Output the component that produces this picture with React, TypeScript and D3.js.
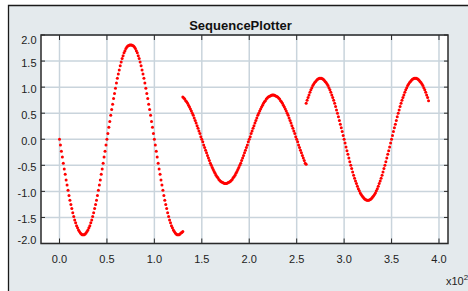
import React from "react";
import * as d3 from "d3";

// Sequence values (index-based x)
const SEG_STARTS = [0, 130, 260];

const SEG1 = [
  0, -0.11, -0.23, -0.34, -0.46, -0.57, -0.67, -0.78, -0.88, -0.98, -1.08, -1.17, -1.25, -1.33, -1.41, -1.48, -1.55, -1.60, -1.66, -1.70, -1.74, -1.77, -1.80, -1.82, -1.83, -1.83,
  -1.83, -1.82, -1.80, -1.77, -1.74, -1.70, -1.66, -1.60, -1.55, -1.48, -1.41, -1.33, -1.25, -1.17, -1.08, -0.98, -0.88, -0.78, -0.67, -0.57, -0.46, -0.34, -0.23, -0.11, 0,
  0.11, 0.23, 0.34, 0.46, 0.57, 0.67, 0.78, 0.88, 0.98, 1.08, 1.17, 1.25, 1.33, 1.41, 1.48, 1.55, 1.60, 1.66, 1.70, 1.74, 1.77, 1.79, 1.80, 1.81, 1.81,
  1.81, 1.80, 1.79, 1.77, 1.74, 1.70, 1.66, 1.60, 1.55, 1.48, 1.41, 1.33, 1.25, 1.17, 1.08, 0.98, 0.88, 0.78, 0.67, 0.57, 0.46, 0.34, 0.23, 0.11, 0,
  -0.11, -0.23, -0.34, -0.46, -0.57, -0.67, -0.78, -0.88, -0.98, -1.08, -1.17, -1.25, -1.33, -1.41, -1.48, -1.55, -1.60, -1.66, -1.70, -1.74, -1.77, -1.80, -1.82, -1.83, -1.83,
  -1.83, -1.82, -1.80, -1.79, -1.77,
];

const SEG2 = [
  0.81, 0.79, 0.77, 0.74, 0.72, 0.69, 0.65, 0.62, 0.58, 0.54, 0.50, 0.46, 0.41, 0.36, 0.31, 0.26, 0.21, 0.16, 0.11, 0.05, 0,
  -0.05, -0.11, -0.16, -0.21, -0.26, -0.31, -0.36, -0.41, -0.46, -0.50, -0.54, -0.58, -0.62, -0.65, -0.69, -0.72, -0.74, -0.77, -0.79, -0.81, -0.82, -0.83, -0.84, -0.85, -0.85,
  -0.85, -0.84, -0.83, -0.82, -0.81, -0.79, -0.77, -0.74, -0.72, -0.69, -0.65, -0.62, -0.58, -0.54, -0.50, -0.46, -0.41, -0.36, -0.31, -0.26, -0.21, -0.16, -0.11, -0.05, 0,
  0.05, 0.11, 0.16, 0.21, 0.26, 0.31, 0.36, 0.41, 0.46, 0.50, 0.54, 0.58, 0.62, 0.65, 0.69, 0.72, 0.74, 0.77, 0.79, 0.81, 0.82, 0.83, 0.84, 0.85, 0.85,
  0.85, 0.84, 0.83, 0.82, 0.81, 0.79, 0.77, 0.74, 0.72, 0.69, 0.65, 0.62, 0.58, 0.54, 0.50, 0.46, 0.41, 0.36, 0.31, 0.26, 0.21, 0.16, 0.11, 0.05, 0,
  -0.05, -0.11, -0.16, -0.21, -0.26, -0.31, -0.36, -0.41, -0.46, -0.48,
];

const SEG3 = [
  0.69, 0.75, 0.80, 0.85, 0.90, 0.95, 0.99, 1.03, 1.06, 1.09, 1.11, 1.13, 1.15, 1.16, 1.17, 1.17,
  1.17, 1.16, 1.15, 1.13, 1.11, 1.09, 1.06, 1.03, 0.99, 0.95, 0.90, 0.85, 0.80, 0.75, 0.69, 0.63, 0.56, 0.50, 0.43, 0.36, 0.29, 0.22, 0.15, 0.07, 0,
  -0.07, -0.15, -0.22, -0.29, -0.36, -0.43, -0.50, -0.56, -0.63, -0.69, -0.75, -0.80, -0.85, -0.90, -0.95, -0.99, -1.03, -1.06, -1.09, -1.11, -1.13, -1.15, -1.16, -1.17, -1.17,
  -1.17, -1.16, -1.15, -1.13, -1.11, -1.09, -1.06, -1.03, -0.99, -0.95, -0.90, -0.85, -0.80, -0.75, -0.69, -0.63, -0.56, -0.50, -0.43, -0.36, -0.29, -0.22, -0.15, -0.07, 0,
  0.07, 0.15, 0.22, 0.29, 0.36, 0.43, 0.50, 0.56, 0.63, 0.69, 0.75, 0.80, 0.85, 0.90, 0.95, 0.99, 1.03, 1.06, 1.09, 1.11, 1.13, 1.15, 1.16, 1.17, 1.17,
  1.17, 1.16, 1.15, 1.13, 1.11, 1.09, 1.06, 1.03, 0.99, 0.95, 0.90, 0.85, 0.80, 0.74,
];

const SEGMENTS = [SEG1, SEG2, SEG3];

const X_TICKS = [0, 50, 100, 150, 200, 250, 300, 350, 400];
const X_TICK_LABELS = ["0.0", "0.5", "1.0", "1.5", "2.0", "2.5", "3.0", "3.5", "4.0"];
const Y_TICKS = [-2, -1.5, -1, -0.5, 0, 0.5, 1, 1.5, 2];
const Y_TICK_LABELS = ["-2.0", "-1.5", "-1.0", "-0.5", "0.0", "0.5", "1.0", "1.5", "2.0"];

const TITLE = "SequencePlotter";
const X_EXP_LABEL = "x10";
const X_EXP = "2";

const W = 468;
const H = 291;
const PL = 41, PR = 448, PT = 35, PB = 243.5;
const FONT = "'Liberation Sans', Arial, Helvetica, sans-serif";

export default function App() {
  const x = d3.scaleLinear().domain([-19.5, 409.5]).range([PL, PR]);
  const y = d3.scaleLinear().domain([-2, 2]).range([PB, PT]);

  const points: { px: number; py: number }[] = [];
  SEGMENTS.forEach((seg, si) => {
    seg.forEach((v, i) => {
      points.push({ px: x(SEG_STARTS[si] + i), py: y(v) });
    });
  });

  const gridColor = "#c9d4dc";
  const axisColor = "#2a2a2a";

  return (
    <svg
      width={W}
      height={H}
      viewBox={`0 0 ${W} ${H}`}
      style={{ position: "absolute", left: 0, top: 0, background: "#ffffff" }}
    >
      {/* outer panel */}
      <rect x={8.5} y={5.5} width={W} height={H} fill="#e4eaed" />
      <path d={`M8.5,${H} L8.5,5.5 L${W},5.5`} fill="none" stroke="#1a1a1a" strokeWidth={1.3} />

      {/* title */}
      <text x={240.5} y={30} textAnchor="middle" fontFamily={FONT} fontWeight="bold" fontSize={13} fill="#111">
        {TITLE}
      </text>

      {/* plot area */}
      <rect x={PL} y={PT} width={PR - PL} height={PB - PT} fill="#ffffff" />

      {/* grid */}
      {X_TICKS.map((t) => (
        <line key={"gx" + t} x1={x(t)} x2={x(t)} y1={PT} y2={PB} stroke={gridColor} strokeWidth={1.5} />
      ))}
      {Y_TICKS.map((t) => (
        <line key={"gy" + t} x1={PL} x2={PR} y1={y(t)} y2={y(t)} stroke={gridColor} strokeWidth={1.5} />
      ))}

      {/* ticks */}
      {X_TICKS.map((t) => (
        <g key={"tx" + t}>
          <line x1={x(t)} x2={x(t)} y1={PT} y2={PT + 5} stroke={axisColor} strokeWidth={1} />
          <line x1={x(t)} x2={x(t)} y1={PB} y2={PB - 5} stroke={axisColor} strokeWidth={1} />
        </g>
      ))}
      {Y_TICKS.map((t) => (
        <g key={"ty" + t}>
          <line x1={PL} x2={PL + 4} y1={y(t)} y2={y(t)} stroke={axisColor} strokeWidth={1} />
          <line x1={PR} x2={PR - 4} y1={y(t)} y2={y(t)} stroke={axisColor} strokeWidth={1} />
        </g>
      ))}

      {/* border */}
      <rect x={PL} y={PT} width={PR - PL} height={PB - PT} fill="none" stroke={axisColor} strokeWidth={1.5} />

      {/* data */}
      {points.map((p, i) => (
        <circle key={i} cx={p.px} cy={p.py} r={1.5} fill="#ff0000" />
      ))}

      {/* y labels */}
      {Y_TICKS.map((t, i) => {
        const c = Math.min(Math.max(y(t) + 1.5, PT + 5), PB - 3.5);
        return (
          <text key={"ly" + t} x={36.5} y={c + 4} textAnchor="end" fontFamily={FONT} fontSize={11} fill="#222">
            {Y_TICK_LABELS[i]}
          </text>
        );
      })}

      {/* x labels */}
      {X_TICKS.map((t, i) => (
        <text key={"lx" + t} x={x(t)} y={262.5} textAnchor="middle" fontFamily={FONT} fontSize={11} fill="#222">
          {X_TICK_LABELS[i]}
        </text>
      ))}

      {/* exponent label */}
      <text x={446} y={285} fontFamily={FONT} fontSize={11} fill="#222">
        {X_EXP_LABEL}
        <tspan dy={-5} fontSize={8}>{X_EXP}</tspan>
      </text>
    </svg>
  );
}
